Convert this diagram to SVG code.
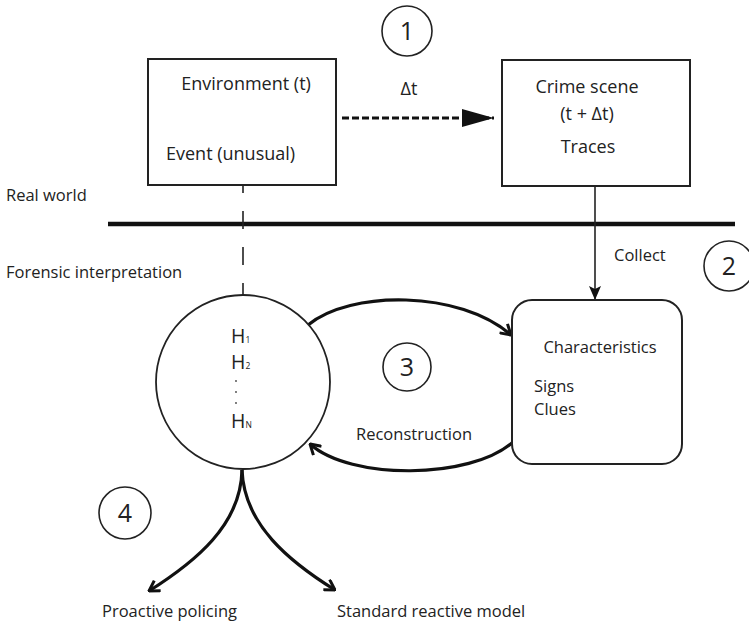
<svg xmlns="http://www.w3.org/2000/svg" width="749" height="627" viewBox="0 0 749 627">
<style>
text{font-family:"Open Sans","Noto Sans","Liberation Sans",sans-serif;fill:#222}
.box{fill:#fff;stroke:#222;stroke-width:2}
.num{fill:#fff;stroke:#222;stroke-width:1.6}
.lbl{font-size:16.5px}
.bx{font-size:18px}
.dig{font-size:25px;text-anchor:middle}
.thick{fill:none;stroke:#111;stroke-width:3.2}
</style>
<defs>
<marker id="big" viewBox="0 0 32 18" refX="32" refY="9" markerWidth="32" markerHeight="18" markerUnits="userSpaceOnUse" orient="auto"><polygon points="0,0 32,9 0,18" fill="#111"/></marker>
<marker id="fill" viewBox="0 0 14 12" refX="14" refY="6" markerWidth="14" markerHeight="12" markerUnits="userSpaceOnUse" orient="auto"><polygon points="0,0 14,6 0,12 3,6" fill="#111"/></marker>
<marker id="open" viewBox="0 0 12 14" refX="11" refY="7" markerWidth="12" markerHeight="14" markerUnits="userSpaceOnUse" orient="auto"><path d="M1,1 L11,7 L1,13" fill="none" stroke="#111" stroke-width="3"/></marker>
</defs>

<g id="labels">
<text class="lbl" x="6" y="201">Real world</text>
<text class="lbl" x="6" y="278">Forensic interpretation</text>
</g>

<g id="connectors">
<line x1="108" y1="224" x2="735" y2="224" stroke="#111" stroke-width="4.5"/>
<line x1="243" y1="185" x2="243" y2="296" stroke="#222" stroke-width="1.6" stroke-dasharray="18 18" stroke-dashoffset="10"/>
<line x1="342" y1="118" x2="494" y2="118" stroke="#111" stroke-width="3" stroke-dasharray="7 3" marker-end="url(#big)"/>
<line x1="595" y1="186" x2="595" y2="300" stroke="#222" stroke-width="1.6" marker-end="url(#fill)"/>
<path class="thick" d="M308,325 C350,290 460,290 511,335" marker-end="url(#open)"/>
<path class="thick" d="M513,442 C470,480 350,480 310,444" marker-end="url(#open)"/>
<path class="thick" d="M242,470 C241,525 195,562 149,591" marker-end="url(#open)"/>
<path class="thick" d="M242,470 C244,525 290,562 335,590" marker-end="url(#open)"/>
<text class="bx" x="409" y="95" text-anchor="middle">Δt</text>
<text class="lbl" x="614" y="261">Collect</text>
<text class="lbl" x="414" y="440" text-anchor="middle">Reconstruction</text>
<text class="lbl" x="102" y="617">Proactive policing</text>
<text class="lbl" x="337" y="617">Standard reactive model</text>
</g>

<g id="environment">
<rect class="box" x="148" y="59" width="188" height="126"/>
<text class="bx" x="246" y="90" text-anchor="middle">Environment (t)</text>
<text class="bx" x="166" y="160">Event (unusual)</text>
</g>

<g id="crime-scene">
<rect class="box" x="502" y="60" width="188" height="126"/>
<text class="bx" x="587" y="93" text-anchor="middle">Crime scene</text>
<text class="bx" x="587" y="120" text-anchor="middle">(t + Δt)</text>
<text class="bx" x="588" y="153" text-anchor="middle">Traces</text>
</g>

<g id="hypotheses">
<circle cx="243" cy="382" r="87" fill="#fff" stroke="#222" stroke-width="1.8"/>
<text x="231" y="343" font-size="19.5">H<tspan font-size="8.5">1</tspan></text>
<text x="231" y="369" font-size="19.5">H<tspan font-size="8.5">2</tspan></text>
<circle cx="236" cy="381" r="0.9" fill="#444"/>
<circle cx="236" cy="392" r="0.9" fill="#444"/>
<circle cx="236" cy="403" r="0.9" fill="#444"/>
<text x="231" y="428" font-size="19.5">H<tspan font-size="8.5">N</tspan></text>
</g>

<g id="characteristics">
<rect class="box" x="512" y="300" width="170" height="164" rx="20" ry="20"/>
<text class="lbl" x="600" y="353" text-anchor="middle">Characteristics</text>
<text class="lbl" x="534" y="392">Signs</text>
<text class="lbl" x="534" y="415">Clues</text>
</g>

<g id="step1"><circle class="num" cx="407" cy="31" r="25"/><text class="dig" x="407" y="40">1</text></g>
<g id="step2"><circle class="num" cx="729" cy="266" r="25"/><text class="dig" x="729" y="275">2</text></g>
<g id="step3"><circle class="num" cx="407" cy="367" r="24"/><text class="dig" x="407" y="376">3</text></g>
<g id="step4"><circle class="num" cx="125" cy="513" r="26"/><text class="dig" x="125" y="522">4</text></g>
</svg>
